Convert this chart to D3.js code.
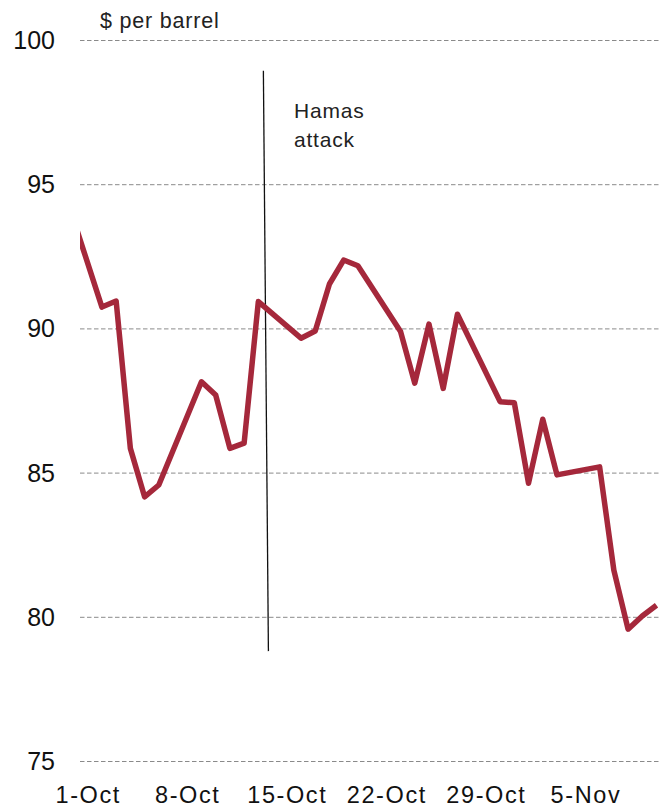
<!DOCTYPE html>
<html>
<head>
<meta charset="utf-8">
<script src="https://cdn.jsdelivr.net/npm/d3@7/dist/d3.min.js"></script>
<style>
  html, body { margin: 0; padding: 0; background: #fff; }
  svg { display: block; font-family: "Liberation Sans", Arial, Helvetica, sans-serif; }
</style>
</head>
<body>
<svg id="chart" width="659" height="810"></svg>
<script>
// Brent crude, daily close ($ per barrel)
const dates = [
  "2023-09-29",
  "2023-10-02", "2023-10-03", "2023-10-04", "2023-10-05", "2023-10-06",
  "2023-10-09", "2023-10-10", "2023-10-11", "2023-10-12", "2023-10-13",
  "2023-10-16", "2023-10-17", "2023-10-18", "2023-10-19", "2023-10-20",
  "2023-10-23", "2023-10-24", "2023-10-25", "2023-10-26", "2023-10-27",
  "2023-10-30", "2023-10-31", "2023-11-01", "2023-11-02", "2023-11-03",
  "2023-11-06", "2023-11-07", "2023-11-08", "2023-11-09", "2023-11-10"
];
const prices = [
  95.3,
  90.74, 90.95, 85.84, 84.16, 84.57,
  88.15, 87.69, 85.84, 86.02, 90.93,
  89.66, 89.91, 91.54, 92.37, 92.17,
  89.89, 88.10, 90.15, 87.92, 90.49,
  87.46, 87.42, 84.63, 86.85, 84.92,
  85.20, 81.62, 79.57, 80.03, 80.40
];

// Axis ticks
const yTicks = [75, 80, 85, 90, 95, 100];
const xTickDates = ["2023-10-01", "2023-10-08", "2023-10-15", "2023-10-22", "2023-10-29", "2023-11-05"];

// Annotation: the marker line runs from its top point to its bottom point
const eventLabel = ["Hamas", "attack"];
const eventLineDates = ["2023-10-13T08:30", "2023-10-13T17:00"];
const eventLineValues = [98.93, 78.81];

const unitLabel = "$ per barrel";

const parseDay = d3.utcParse("%Y-%m-%d");
const parseTime = d3.utcParse("%Y-%m-%dT%H:%M");
const fmt = d3.utcFormat("%-d-%b");

const W = 659, H = 810;
const plotLeft = 80, plotRight = 659;

const x = d3.scaleUtc()
  .domain([parseDay("2023-10-01"), parseDay("2023-11-10")])
  .range([87.7, 656.5]);

const y = d3.scaleLinear()
  .domain([75, 100])
  .range([761, 40]);

const svg = d3.select("#chart");

svg.append("rect").attr("width", W).attr("height", H).attr("fill", "#fff");

svg.append("defs").append("clipPath").attr("id", "plot-clip")
  .append("rect")
  .attr("x", plotLeft).attr("y", 0)
  .attr("width", plotRight - plotLeft).attr("height", H);

// Horizontal gridlines with value labels
const yAxis = d3.axisLeft(y)
  .tickValues(yTicks)
  .tickSize(-(plotRight - plotLeft))
  .tickPadding(25)
  .tickFormat(d3.format("d"));

const gy = svg.append("g")
  .attr("transform", `translate(${plotLeft},0)`)
  .call(yAxis);
gy.select(".domain").remove();
gy.selectAll(".tick line")
  .attr("stroke", "#8a8a8a")
  .attr("stroke-width", 1)
  .attr("stroke-dasharray", "4.5,2.5");
gy.selectAll(".tick text")
  .attr("fill", "#111")
  .attr("font-size", 25)
  .attr("font-family", "Liberation Sans, Arial, sans-serif")
  .attr("dy", "0.34em");

// Date labels along the bottom
const xAxis = d3.axisBottom(x)
  .tickValues(xTickDates.map(parseDay))
  .tickSize(0)
  .tickFormat(fmt);

const gx = svg.append("g")
  .attr("transform", "translate(0,803)")
  .call(xAxis);
gx.select(".domain").remove();
gx.selectAll(".tick text")
  .attr("y", 0)
  .attr("dy", 0)
  .attr("fill", "#111")
  .attr("font-size", 23.5)
  .attr("letter-spacing", 1.6)
  .attr("font-family", "Liberation Sans, Arial, sans-serif");

// Unit label
svg.append("text")
  .attr("x", 100)
  .attr("y", 28)
  .attr("font-size", 21.5)
  .attr("letter-spacing", 0.8)
  .attr("fill", "#222")
  .text(unitLabel);

// Event marker line and label
const evPts = eventLineDates.map((d, i) => [x(parseTime(d)), y(eventLineValues[i])]);
svg.append("line")
  .attr("x1", evPts[0][0]).attr("y1", evPts[0][1])
  .attr("x2", evPts[1][0]).attr("y2", evPts[1][1])
  .attr("stroke", "#111")
  .attr("stroke-width", 1.3);

svg.append("text")
  .attr("x", 294)
  .attr("y", 117.5)
  .attr("font-size", 21)
  .attr("letter-spacing", 0.8)
  .attr("fill", "#222")
  .selectAll("tspan")
  .data(eventLabel)
  .join("tspan")
  .attr("x", 294)
  .attr("dy", (d, i) => i === 0 ? 0 : 29.5)
  .text(d => d);

// Price line
const series = dates.map((d, i) => ({ date: parseDay(d), value: prices[i] }));
const line = d3.line()
  .x(d => x(d.date))
  .y(d => y(d.value));

svg.append("path")
  .datum(series)
  .attr("clip-path", "url(#plot-clip)")
  .attr("d", line)
  .attr("fill", "none")
  .attr("stroke", "#a5283b")
  .attr("stroke-width", 5.5)
  .attr("stroke-linejoin", "round")
  .attr("stroke-linecap", "butt");
</script>
</body>
</html>
